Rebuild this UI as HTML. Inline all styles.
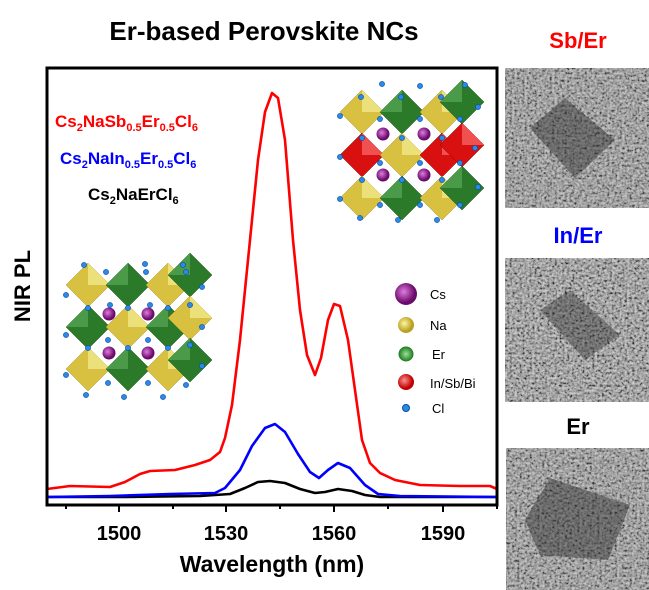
<!DOCTYPE html>
<html><head><meta charset="utf-8"><style>
body{margin:0;background:#fff;}
svg{display:block;font-family:"Liberation Sans",Arial,sans-serif;}
</style></head><body>
<svg width="649" height="590" viewBox="0 0 649 590" xmlns="http://www.w3.org/2000/svg">
<defs>
<filter id="noise" x="0" y="0" width="100%" height="100%">
<feTurbulence type="fractalNoise" baseFrequency="0.4" numOctaves="2" seed="3"/>
<feColorMatrix type="saturate" values="0"/>
<feComponentTransfer><feFuncR type="linear" slope="2.6" intercept="-0.8"/><feFuncG type="linear" slope="2.6" intercept="-0.8"/><feFuncB type="linear" slope="2.6" intercept="-0.8"/><feFuncA type="linear" slope="0" intercept="1"/></feComponentTransfer>
</filter>
<radialGradient id="cs" cx="0.4" cy="0.4"><stop offset="0" stop-color="#e07be0"/><stop offset="1" stop-color="#6a0a6a"/></radialGradient>
<radialGradient id="na" cx="0.4" cy="0.4"><stop offset="0" stop-color="#fff6a0"/><stop offset="1" stop-color="#b8a020"/></radialGradient>
<radialGradient id="er" cx="0.5" cy="0.5"><stop offset="0" stop-color="#9ee09e"/><stop offset="1" stop-color="#1a7a1a"/></radialGradient>
<radialGradient id="rd" cx="0.4" cy="0.4"><stop offset="0" stop-color="#ff9090"/><stop offset="1" stop-color="#c00000"/></radialGradient>
<g id="dY"><polygon points="0,-22 22,0 0,22 -22,0" fill="#d8c040" stroke="#a89020" stroke-width="0.5"/><polygon points="0,-22 22,0 0,0" fill="#ece07a"/></g>
<g id="dG"><polygon points="0,-22 22,0 0,22 -22,0" fill="#2a7a2a" stroke="#155515" stroke-width="0.5"/><polygon points="0,-22 -22,0 0,0" fill="#4a9a4a"/></g>
<g id="dR"><polygon points="0,-22 22,0 0,22 -22,0" fill="#d81010" stroke="#900000" stroke-width="0.5"/><polygon points="0,-22 22,0 0,0" fill="#f05050"/></g>
<circle id="cl" r="2.6" fill="#2a8ae8" stroke="#0a4aa0" stroke-width="0.6"/>
<circle id="cb" r="6.5" fill="url(#cs)"/>
</defs>
<rect width="649" height="590" fill="#fff"/>
<text x="264" y="40" font-size="26" font-weight="bold" text-anchor="middle">Er-based Perovskite NCs</text>

<g>
<use href="#dY" x="88" y="285"/><use href="#dG" x="128" y="285"/><use href="#dY" x="168" y="285"/><use href="#dG" x="190" y="275"/>
<use href="#dG" x="88" y="327"/><use href="#dY" x="128" y="327"/><use href="#dG" x="168" y="327"/><use href="#dY" x="190" y="318"/>
<use href="#dY" x="88" y="369"/><use href="#dG" x="128" y="369"/><use href="#dY" x="168" y="369"/><use href="#dG" x="190" y="360"/>
<use href="#cb" x="109" y="314"/><use href="#cb" x="148" y="314"/><use href="#cb" x="109" y="353"/><use href="#cb" x="148" y="353"/>
<use href="#cl" x="66" y="295"/><use href="#cl" x="66" y="335"/><use href="#cl" x="66" y="375"/>
<use href="#cl" x="106" y="272"/><use href="#cl" x="146" y="272"/><use href="#cl" x="186" y="272"/>
<use href="#cl" x="84" y="265"/><use href="#cl" x="145" y="264"/><use href="#cl" x="183" y="265"/><use href="#cl" x="202" y="287"/>
<use href="#cl" x="110" y="305"/><use href="#cl" x="150" y="305"/><use href="#cl" x="190" y="305"/><use href="#cl" x="202" y="327"/>
<use href="#cl" x="88" y="308"/><use href="#cl" x="128" y="308"/><use href="#cl" x="168" y="308"/>
<use href="#cl" x="88" y="348"/><use href="#cl" x="128" y="348"/><use href="#cl" x="168" y="348"/>
<use href="#cl" x="108" y="340"/><use href="#cl" x="148" y="340"/><use href="#cl" x="190" y="345"/><use href="#cl" x="202" y="366"/>
<use href="#cl" x="108" y="383"/><use href="#cl" x="148" y="383"/><use href="#cl" x="186" y="385"/>
<use href="#cl" x="86" y="395"/><use href="#cl" x="124" y="397"/><use href="#cl" x="163" y="397"/>
</g>

<g>
<use href="#dY" x="362" y="112"/><use href="#dG" x="402" y="112"/><use href="#dY" x="442" y="112"/><use href="#dG" x="462" y="102"/>
<use href="#dR" x="362" y="155"/><use href="#dY" x="402" y="155"/><use href="#dR" x="442" y="155"/><use href="#dR" x="462" y="145"/>
<use href="#dY" x="362" y="198"/><use href="#dG" x="402" y="198"/><use href="#dY" x="442" y="198"/><use href="#dG" x="462" y="188"/>
<use href="#cb" x="383" y="134"/><use href="#cb" x="424" y="134"/><use href="#cb" x="383" y="175"/><use href="#cb" x="424" y="175"/>
<use href="#cl" x="340" y="116"/><use href="#cl" x="340" y="157"/><use href="#cl" x="340" y="199"/>
<use href="#cl" x="361" y="97"/><use href="#cl" x="401" y="97"/><use href="#cl" x="441" y="97"/><use href="#cl" x="465" y="85"/>
<use href="#cl" x="382" y="84"/><use href="#cl" x="420" y="86"/><use href="#cl" x="478" y="107"/>
<use href="#cl" x="380" y="119"/><use href="#cl" x="420" y="119"/><use href="#cl" x="460" y="119"/>
<use href="#cl" x="362" y="138"/><use href="#cl" x="402" y="138"/><use href="#cl" x="442" y="138"/><use href="#cl" x="475" y="148"/>
<use href="#cl" x="380" y="163"/><use href="#cl" x="420" y="163"/><use href="#cl" x="460" y="163"/>
<use href="#cl" x="362" y="180"/><use href="#cl" x="402" y="180"/><use href="#cl" x="442" y="180"/><use href="#cl" x="478" y="187"/>
<use href="#cl" x="380" y="205"/><use href="#cl" x="420" y="205"/><use href="#cl" x="460" y="205"/>
<use href="#cl" x="360" y="218"/><use href="#cl" x="398" y="220"/><use href="#cl" x="437" y="220"/>
</g>

<circle cx="406" cy="294" r="11" fill="url(#cs)"/>
<circle cx="406" cy="325" r="8" fill="url(#na)"/>
<circle cx="406" cy="354" r="7.5" fill="url(#er)"/>
<circle cx="406" cy="382" r="8" fill="url(#rd)"/>
<circle cx="406" cy="408" r="3.5" fill="#2a8ae8" stroke="#0a4aa0"/>
<g font-size="13" fill="#000">
<text x="430" y="299">Cs</text><text x="430" y="330">Na</text><text x="432" y="359">Er</text><text x="430" y="388">In/Sb/Bi</text><text x="432" y="413">Cl</text>
</g>

<g font-size="17" font-weight="bold">
<text x="55" y="127" fill="#f00">Cs<tspan font-size="11" dy="4">2</tspan><tspan dy="-4">NaSb</tspan><tspan font-size="11" dy="4">0.5</tspan><tspan dy="-4">Er</tspan><tspan font-size="11" dy="4">0.5</tspan><tspan dy="-4">Cl</tspan><tspan font-size="11" dy="4">6</tspan></text>
<text x="60" y="164" fill="#00f">Cs<tspan font-size="11" dy="4">2</tspan><tspan dy="-4">NaIn</tspan><tspan font-size="11" dy="4">0.5</tspan><tspan dy="-4">Er</tspan><tspan font-size="11" dy="4">0.5</tspan><tspan dy="-4">Cl</tspan><tspan font-size="11" dy="4">6</tspan></text>
<text x="88" y="200" fill="#000">Cs<tspan font-size="11" dy="4">2</tspan><tspan dy="-4">NaErCl</tspan><tspan font-size="11" dy="4">6</tspan></text>
</g>

<g fill="none" stroke-width="2.6" stroke-linejoin="round">
<path stroke="#000" d="M47,497 L120,497 L200,496 L230,494 L245,488 L258,482 L270,481 L285,483 L300,489 L315,493 L325,492 L338,489 L352,491 L365,495 L380,497 L497,497"/>
<path stroke="#00f" d="M47,497 L110,496 L170,494 L215,493 L225,488 L240,470 L252,446 L265,428 L275,424 L285,432 L298,454 L310,472 L319,478 L328,470 L338,463 L350,468 L365,485 L378,494 L400,496 L497,497"/>
<path stroke="#f00" d="M47,489 L70,486 L110,487 L125,482 L140,474 L150,471 L175,470 L195,465 L210,460 L220,452 L225,438 L232,405 L240,340 L250,240 L258,160 L265,112 L272,93 L278,98 L285,140 L293,240 L300,310 L307,355 L315,375 L321,358 L328,320 L334,304 L340,306 L348,340 L355,390 L362,440 L370,463 L380,473 L395,480 L420,485 L460,486 L490,486 L497,489"/>
</g>

<rect x="47" y="68" width="450" height="437" fill="none" stroke="#000" stroke-width="3"/>
<g stroke="#000" stroke-width="2">
<line x1="119" y1="505" x2="119" y2="512"/><line x1="226" y1="505" x2="226" y2="512"/><line x1="334" y1="505" x2="334" y2="512"/><line x1="443" y1="505" x2="443" y2="512"/>
<line x1="66" y1="505" x2="66" y2="509"/><line x1="173" y1="505" x2="173" y2="509"/><line x1="280" y1="505" x2="280" y2="509"/><line x1="388" y1="505" x2="388" y2="509"/><line x1="497" y1="505" x2="497" y2="509"/>
</g>
<g font-size="20" font-weight="bold" text-anchor="middle">
<text x="119" y="540">1500</text><text x="226" y="540">1530</text><text x="334" y="540">1560</text><text x="443" y="540">1590</text>
<text x="272" y="572" font-size="23">Wavelength (nm)</text>
<text transform="translate(30,286) rotate(-90)" font-size="22">NIR PL</text>
</g>

<g font-size="22" font-weight="bold" text-anchor="middle">
<text x="578" y="48" fill="#f00">Sb/Er</text>
<text x="578" y="243" fill="#00f">In/Er</text>
<text x="578" y="434" fill="#000">Er</text>
</g>
<g>
<rect x="505" y="68" width="144" height="140" filter="url(#noise)"/>
<rect x="505" y="68" width="144" height="140" fill="#808080" opacity="0.45"/>
<polygon points="530,128 565,98 615,140 575,178" fill="#2a2a2a" opacity="0.45"/>
<rect x="505" y="258" width="144" height="144" filter="url(#noise)"/>
<rect x="505" y="258" width="144" height="144" fill="#808080" opacity="0.4"/>
<polygon points="540,310 570,290 620,335 585,360" fill="#2a2a2a" opacity="0.4"/>
<rect x="506" y="448" width="143" height="142" filter="url(#noise)"/>
<rect x="506" y="448" width="143" height="142" fill="#808080" opacity="0.45"/>
<polygon points="525,520 550,478 630,505 608,560 540,555" fill="#2a2a2a" opacity="0.45"/>
</g>
</svg>
</body></html>
